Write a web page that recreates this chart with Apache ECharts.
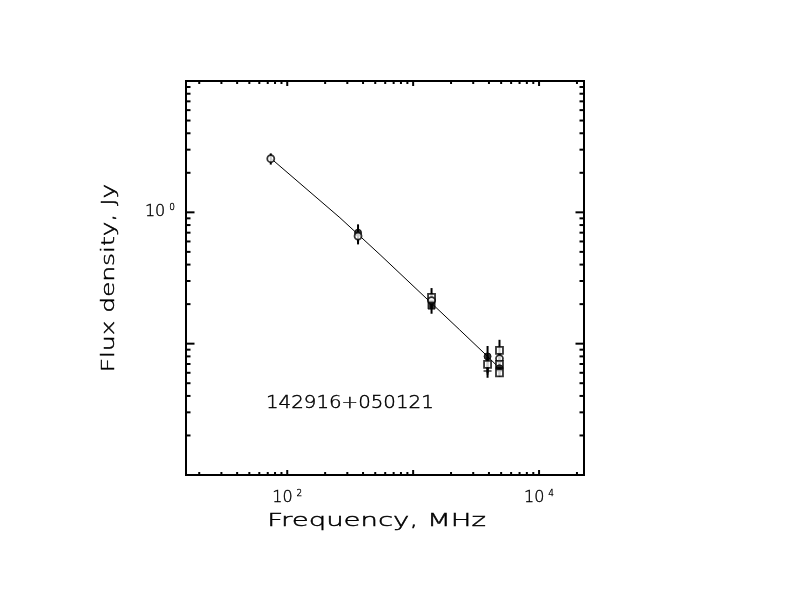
<!DOCTYPE html>
<html>
<head>
<meta charset="utf-8">
<script src="https://cdn.jsdelivr.net/npm/echarts@6/dist/echarts.min.js"></script>
<style>
  html, body { margin: 0; padding: 0; background: #fff; }
  #chart { width: 792px; height: 612px; }
</style>
</head>
<body>
<div id="chart"></div>
<script>
// ---- data ----
const freqMHz   = [74, 365, 365, 1400, 1400, 1400, 3900, 3900, 3900, 4850, 4850, 4850, 4850, 4850];
const fluxJy    = [2.56, 0.70, 0.66, 0.225, 0.213, 0.195, 0.080, 0.0695, 0.062, 0.089, 0.077, 0.0695, 0.065, 0.060];
const fluxErrJy = [0.25, 0.11, 0.09, 0.04, 0.03, 0.026, 0.016, 0.010, 0.007, 0.018, 0.009, 0.008, 0.007, 0.004];
const markerType = ['oc', 'fc', 'oc', 'os', 'oc', 'fs', 'fc', 'os', 'pl', 'os', 'oc', 'os', 'fc', 'os'];

// fitted spectrum curve
const fitFreqMHz = [74, 262, 546, 2330, 3900, 4850];
const fitFluxJy  = [2.58, 0.91, 0.476, 0.128, 0.080, 0.065];

// axis ticks
const xMajorTicks = [100, 1000, 10000];
const xMinorTicks = [20, 30, 40, 50, 60, 70, 80, 90, 200, 300, 400, 500, 600, 700, 800, 900,
                     2000, 3000, 4000, 5000, 6000, 7000, 8000, 9000, 20000];
const yMajorTicks = [0.1, 1];
const yMinorTicks = [0.02, 0.03, 0.04, 0.05, 0.06, 0.07, 0.08, 0.09,
                     0.2, 0.3, 0.4, 0.5, 0.6, 0.7, 0.8, 0.9,
                     2, 3, 4, 5, 6, 7, 8, 9];
const xLabelPowers = [2, 4];
const yLabelPowers = [0];

const sourceName = '142916+050121';
const xTitle = 'Frequency, MHz';
const yTitle = 'Flux density, Jy';

// ---- build ----
const FONT = 'DejaVu Sans';
const PLUS = 'path://M4,0H6V4H10V6H6V10H4V6H0V4H4Z';

function symbolItem(f, s, t) {
  const it = { value: [f, s] };
  if (t === 'oc') { it.symbol = 'circle'; it.itemStyle = { color: '#fff', borderColor: '#000', borderWidth: 1.8 }; }
  else if (t === 'fc') { it.symbol = 'circle'; it.itemStyle = { color: '#000', borderColor: '#000', borderWidth: 1 }; }
  else if (t === 'os') { it.symbol = 'rect'; it.itemStyle = { color: '#fff', borderColor: '#000', borderWidth: 1.8 }; }
  else if (t === 'fs') { it.symbol = 'rect'; it.itemStyle = { color: '#000', borderColor: '#000', borderWidth: 1 }; }
  else { it.symbol = PLUS; it.symbolSize = 8; it.itemStyle = { color: '#000', borderWidth: 0 }; }
  return it;
}
const markerData = freqMHz.map((f, i) => symbolItem(f, fluxJy[i], markerType[i]));
const errData = freqMHz.map((f, i) => [f, fluxJy[i] - fluxErrJy[i], fluxJy[i] + fluxErrJy[i]]);
const fitData = fitFreqMHz.map((f, i) => [f, fitFluxJy[i]]);

const tickData = []
  .concat(xMajorTicks.map(v => [v, 1, 0, 1]))
  .concat(xMinorTicks.map(v => [v, 1, 0, 0]))
  .concat(yMajorTicks.map(v => [100, v, 1, 1]))
  .concat(yMinorTicks.map(v => [100, v, 1, 0]));

function powLabel(v, powers) {
  const lg = Math.log10(v);
  for (const p of powers) {
    if (Math.abs(lg - p) < 1e-6) return '{n|10}{s|' + p + '}';
  }
  return '';
}
const labelRich = {
  n: { fontFamily: FONT, fontSize: 16, color: '#000', lineHeight: 18, fontWeight: 200, textBorderColor: '#000', textBorderWidth: 0.4 },
  s: { fontFamily: FONT, fontSize: 9, color: '#000', verticalAlign: 'top', padding: [0, 0, 0, 4], lineHeight: 18, fontWeight: 200, textBorderColor: '#000', textBorderWidth: 0.3 }
};
const titleStyle = { font: '200 18px "DejaVu Sans"', fill: '#000', stroke: '#000', lineWidth: 0.45, textVerticalAlign: 'middle' };

const chart = echarts.init(document.getElementById('chart'), null, { renderer: 'canvas' });
chart.setOption({
  animation: false,
  backgroundColor: '#fff',
  grid: { left: 186, top: 81, right: 208, bottom: 137, show: true, borderColor: '#000', borderWidth: 2, backgroundColor: 'transparent' },
  xAxis: {
    type: 'log', logBase: 10, min: 15.7, max: 22750,
    axisLine: { show: false }, axisTick: { show: false }, splitLine: { show: false },
    axisLabel: { margin: 14, formatter: v => powLabel(v, xLabelPowers), rich: labelRich, showMinLabel: true, showMaxLabel: true }
  },
  yAxis: {
    type: 'log', logBase: 10, min: 0.01, max: 10,
    axisLine: { show: false }, axisTick: { show: false }, splitLine: { show: false },
    axisLabel: { margin: 11, formatter: v => powLabel(v, yLabelPowers), rich: labelRich }
  },
  graphic: [
    { type: 'text', x: 266, y: 403, scaleX: 1.1,
      style: Object.assign({ text: sourceName, textAlign: 'left' }, titleStyle) },
    { type: 'text', x: 376.5, y: 521, scaleX: 1.53,
      style: Object.assign({ text: xTitle, textAlign: 'center' }, titleStyle) },
    { type: 'text', x: 109, y: 278, rotation: Math.PI / 2, scaleX: 1.38,
      style: Object.assign({ text: yTitle, textAlign: 'center' }, titleStyle) }
  ],
  series: [
    {
      type: 'line', data: fitData, symbol: 'none', silent: true,
      lineStyle: { color: '#000', width: 1 }, z: 2
    },
    {
      type: 'custom', data: errData, encode: { x: 0, y: [1, 2] }, silent: true, z: 3,
      renderItem: function (params, api) {
        const f = api.value(0);
        const a = api.coord([f, api.value(1)]);
        const b = api.coord([f, api.value(2)]);
        return { type: 'line', shape: { x1: a[0], y1: a[1], x2: b[0], y2: b[1] }, style: { stroke: '#000', lineWidth: 2 } };
      }
    },
    {
      type: 'scatter', data: markerData, symbolSize: 7, silent: true, z: 4
    },
    {
      type: 'custom', data: tickData, encode: { x: 0, y: 1 }, silent: true, clip: false, z: 5,
      renderItem: function (params, api) {
        const cs = params.coordSys;
        const major = api.value(3) === 1;
        const style = { stroke: '#000', lineWidth: 2 };
        if (api.value(2) === 0) {
          const px = api.coord([api.value(0), 1])[0];
          const len = major ? 5 : 3;
          return { type: 'group', children: [
            { type: 'line', shape: { x1: px, y1: cs.y + cs.height, x2: px, y2: cs.y + cs.height - len }, style },
            { type: 'line', shape: { x1: px, y1: cs.y, x2: px, y2: cs.y + len }, style }
          ] };
        } else {
          const py = api.coord([100, api.value(1)])[1];
          const len = major ? 8.5 : 4.5;
          return { type: 'group', children: [
            { type: 'line', shape: { x1: cs.x, y1: py, x2: cs.x + len, y2: py }, style },
            { type: 'line', shape: { x1: cs.x + cs.width, y1: py, x2: cs.x + cs.width - len, y2: py }, style }
          ] };
        }
      }
    }
  ]
});
</script>
</body>
</html>
